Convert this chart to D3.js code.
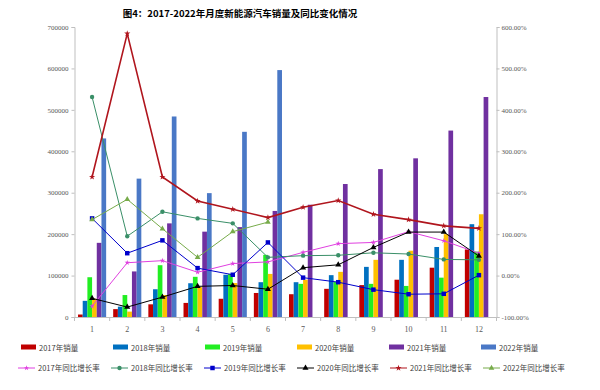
<!DOCTYPE html>
<html>
<head>
<meta charset="utf-8">
<script src="https://cdn.jsdelivr.net/npm/d3@7"></script>
<style>
  body { margin: 0; background: #fff; }
  svg { display: block; }
  .tick text { font-family: "Liberation Serif", "DejaVu Serif", serif; fill: #595959; }
</style>
</head>
<body>
<script>
// months on the x axis
const months = ["1","2","3","4","5","6","7","8","9","10","11","12"]

// monthly sales (vehicles)
const sales2017 = [6000, 19000, 30600, 34000, 44000, 58000, 55000, 68000, 77000, 90000, 119000, 163000]
const sales2018 = [39000, 25000, 67000, 81500, 102000, 84000, 84000, 101000, 121000, 138000, 169000, 224000]
const sales2019 = [96000, 53000, 125000, 97000, 104000, 150000, 80000, 85000, 80000, 75000, 95000, 158000]
const sales2020 = [44000, 13000, 53000, 72000, 82000, 104000, 90000, 109000, 138000, 160000, 200000, 248000]
const sales2021 = [179000, 110000, 226000, 206000, 217000, 256000, 271000, 321000, 357000, 383000, 450000, 531000]
const sales2022 = [431000, 334000, 484000, 299000, 447000, 596000]

// year-on-year growth (%)
const growth2017 = [-74, 31, 36, 8, 29, 33, 56, 77, 80, 106, 84, 54]
const growth2018 = [431, 95, 154, 138, 126, 44, 48, 49, 55, 52, 39, 38]
const growth2019 = [138, 54, 85, 18, 2, 80, -5, -16, -34, -45, -44, 1]
const growth2020 = [-55, -76, -52, -26, -24, -33, 19, 26, 68, 105, 105, 47]
const growth2021 = [238, 584, 238, 180, 160, 140, 165, 181, 148, 135, 120, 114]
const growth2022 = [135, 184, 113, 44, 106, 129]

const barSeries = [
    { name: "2017年销量", values: sales2017, color: "#c00000" },
    { name: "2018年销量", values: sales2018, color: "#0070c0" },
    { name: "2019年销量", values: sales2019, color: "#22ee22" },
    { name: "2020年销量", values: sales2020, color: "#ffc000" },
    { name: "2021年销量", values: sales2021, color: "#7030a0" },
    { name: "2022年销量", values: sales2022, color: "#4a78c6" },
]
const lineSeries = [
    { name: "2017年同比增长率", values: growth2017, color: "#e040e0", symbol: d3.symbolStar, size: 9, width: 1 },
    { name: "2018年同比增长率", values: growth2018, color: "#3a8f68", symbol: d3.symbolCircle, size: 15, width: 1 },
    { name: "2019年同比增长率", values: growth2019, color: "#0000cc", symbol: d3.symbolSquare, size: 20, width: 1 },
    { name: "2020年同比增长率", values: growth2020, color: "#000000", symbol: d3.symbolTriangle, size: 16, width: 1 },
    { name: "2021年同比增长率", values: growth2021, color: "#b0151d", symbol: d3.symbolStar, size: 12, width: 1.6 },
    { name: "2022年同比增长率", values: growth2022, color: "#77ab4a", symbol: d3.symbolTriangle, size: 14, width: 1 },
]

const width = 600, height = 390
const plot = { left: 74.5, right: 496.5, top: 27, bottom: 317 }

let svg = d3.select("body").append("svg")
    .attr("width", width).attr("height", height)

svg.append("text")
    .attr("x", 240).attr("y", 17)
    .attr("text-anchor", "middle")
    .style("font-family", "'Noto Sans CJK SC', sans-serif")
    .style("font-weight", "bold")
    .style("font-size", "9.5px")
    .text("图4：2017-2022年月度新能源汽车销量及同比变化情况")

let x = d3.scaleBand().domain(months)
    .range([plot.left, plot.right]).paddingInner(0.2).paddingOuter(0.1)
let xInner = d3.scaleBand().domain(d3.range(barSeries.length))
    .range([0, x.bandwidth()])
let yLeft = d3.scaleLinear().domain([0, 700000]).range([plot.bottom, plot.top])
let yRight = d3.scaleLinear().domain([-100, 600]).range([plot.bottom, plot.top])

// axes
let leftAxis = svg.append("g")
    .attr("transform", "translate(" + plot.left + ",0)")
    .call(d3.axisLeft(yLeft).tickValues(d3.range(0, 700001, 100000))
        .tickFormat(d3.format("d")).tickSize(3).tickPadding(3))
let rightAxis = svg.append("g")
    .attr("transform", "translate(" + plot.right + ",0)")
    .call(d3.axisRight(yRight).tickValues(d3.range(-100, 601, 100))
        .tickFormat(d => d.toFixed(2) + "%").tickSize(3).tickPadding(2))
let bottomAxis = svg.append("g")
    .attr("transform", "translate(0," + plot.bottom + ")")
    .call(d3.axisBottom(x).tickSize(0).tickPadding(9))

;[leftAxis, rightAxis].forEach(g => {
    g.selectAll("text").style("font-size", "7px")
    g.selectAll("line, path").attr("stroke", "#bfbfbf")
})
bottomAxis.selectAll("text").style("font-size", "8px")
bottomAxis.select("path").attr("stroke", "#bfbfbf")

// tick marks between month groups
let step = x.step()
bottomAxis.selectAll(".sep")
    .data(d3.range(months.length + 1))
    .enter().append("line")
    .attr("x1", d => plot.left + d * step).attr("x2", d => plot.left + d * step)
    .attr("y1", 0).attr("y2", 4)
    .attr("stroke", "#bfbfbf")

// bars
barSeries.forEach((s, i) => {
    svg.append("g").selectAll("rect")
        .data(s.values)
        .enter().append("rect")
        .attr("x", (d, j) => x(months[j]) + xInner(i))
        .attr("width", xInner.bandwidth())
        .attr("y", d => yLeft(d))
        .attr("height", d => plot.bottom - yLeft(d))
        .attr("fill", s.color)
})

// growth lines
let cx = j => x(months[j]) + x.bandwidth() / 2
lineSeries.forEach(s => {
    let line = d3.line().x((d, j) => cx(j)).y(d => yRight(d))
    let g = svg.append("g")
    g.append("path")
        .attr("d", line(s.values))
        .attr("fill", "none")
        .attr("stroke", s.color)
        .attr("stroke-width", s.width)
    g.selectAll("path.m")
        .data(s.values)
        .enter().append("path")
        .attr("class", "m")
        .attr("transform", (d, j) => "translate(" + cx(j) + "," + yRight(d) + ")")
        .attr("d", d3.symbol().type(s.symbol).size(s.size))
        .attr("fill", s.color)
})

// legend
let legendFont = "'Noto Sans CJK SC', sans-serif"
barSeries.forEach((s, i) => {
    let lx = 21 + i * 92
    svg.append("rect")
        .attr("x", lx).attr("y", 344.5).attr("width", 15).attr("height", 5)
        .attr("fill", s.color)
    svg.append("text")
        .attr("x", lx + 18).attr("y", 350.5)
        .style("font-family", legendFont).style("font-size", "7.5px").style("fill", "#404040")
        .text(s.name)
})
lineSeries.forEach((s, i) => {
    let lx = 18 + i * 93
    svg.append("line")
        .attr("x1", lx).attr("x2", lx + 17).attr("y1", 368).attr("y2", 368)
        .attr("stroke", s.color).attr("stroke-width", 1)
    svg.append("path")
        .attr("transform", "translate(" + (lx + 8.5) + ",368)")
        .attr("d", d3.symbol().type(s.symbol).size(s.size))
        .attr("fill", s.color)
    svg.append("text")
        .attr("x", lx + 20).attr("y", 371)
        .style("font-family", legendFont).style("font-size", "7.5px").style("fill", "#404040")
        .text(s.name)
})
</script>
</body>
</html>
